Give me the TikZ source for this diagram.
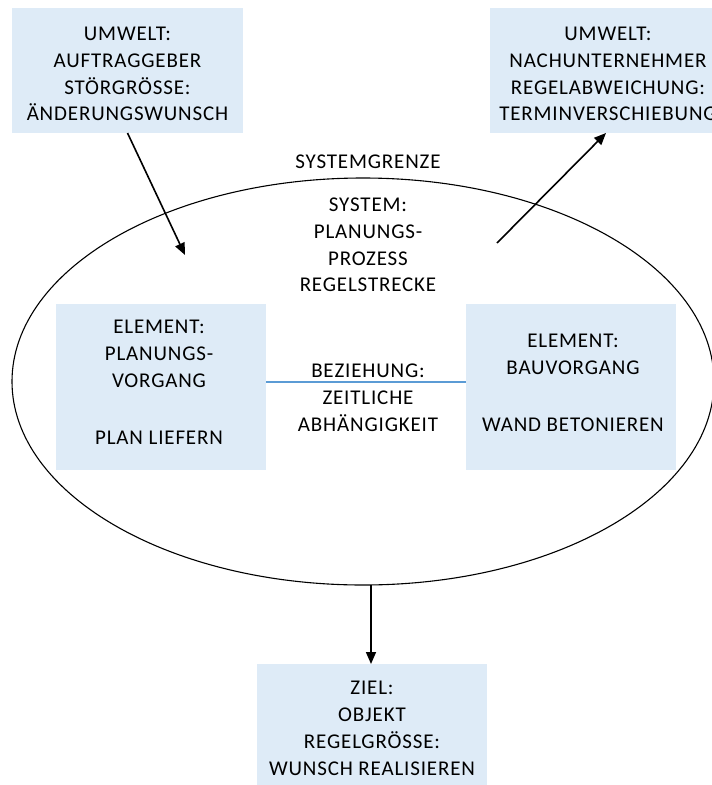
\documentclass[tikz,border=0pt]{standalone}
\usepackage{fontspec}
\setmainfont{Carlito}[LetterSpace=4]
\usetikzlibrary{arrows.meta,shapes.geometric}
\definecolor{boxfill}{HTML}{DEEBF7}
\definecolor{relblue}{HTML}{5B9BD5}
\begin{document}
\begin{tikzpicture}[x=1pt,y=-1pt,
  every node/.style={inner sep=0pt, outer sep=0pt},
  panel/.style={fill=boxfill, draw=none},
  caption/.style={align=center, font=\fontsize{21}{26.8}\selectfont},
  flow/.style={line width=1.6pt, -{Triangle[length=12pt,width=10pt]}},
  boundary/.style={draw, line width=1.1pt, ellipse},
  relation/.style={draw=relblue, line width=1.5pt}]
\useasboundingbox (0,0) rectangle (712,785);
\clip (0,0) rectangle (712,785);

% system boundary
\node[boundary, minimum width=702pt, minimum height=407pt] (sys) at (363,381.5) {};

% environment and goal panels
\node[panel, minimum width=231pt, minimum height=125pt] (envA) at (127.5,70.5) {};
\node[panel, minimum width=232pt, minimum height=125pt] (envB) at (606,70.5) {};
\node[panel, minimum width=210pt, minimum height=166pt] (elemA) at (161,387) {};
\node[panel, minimum width=210pt, minimum height=166pt] (elemB) at (571,387) {};
\node[panel, minimum width=230pt, minimum height=121pt] (goal) at (372,724.5) {};

% texts
\node[caption] (envAtext) at (127.5,74) {UMWELT:\\AUFTRAGGEBER\\STÖRGRÖSSE:\\ÄNDERUNGSWUNSCH};
\node[caption] (envBtext) at (608,74) {UMWELT:\\NACHUNTERNEHMER\\REGELABWEICHUNG:\\TERMINVERSCHIEBUNG};
\node[caption] (border) at (368,161.5) {SYSTEMGRENZE};
\node[caption] (systext) at (368,245) {SYSTEM:\\PLANUNGS-\\PROZESS\\REGELSTRECKE};
\node[caption] (elemAtext) at (159,382.5) {ELEMENT:\\PLANUNGS-\\VORGANG\\[31pt]PLAN LIEFERN};
\node[caption] (elemBtext) at (573,383) {ELEMENT:\\BAUVORGANG\\[31pt]WAND BETONIEREN};
\node[caption] (reltext) at (368,398) {BEZIEHUNG:\\ZEITLICHE\\ABHÄNGIGKEIT};
\node[caption] (goaltext) at (372,728.5) {ZIEL:\\OBJEKT\\REGELGRÖSSE:\\WUNSCH REALISIEREN};

% relation between the two elements
\draw[relation] ([yshift=5pt]elemA.east) -- ([yshift=5pt]elemB.west);

% flows across the boundary
\coordinate (disturb) at (185,255);
\coordinate (deviate) at (497,243);
\coordinate (sysout) at (371,585);
\draw[flow] (envA.south) -- (disturb);
\draw[flow] (deviate) -- (envB.south);
\draw[flow] (sysout) -- (goal.north -| sysout);
\end{tikzpicture}
\end{document}
